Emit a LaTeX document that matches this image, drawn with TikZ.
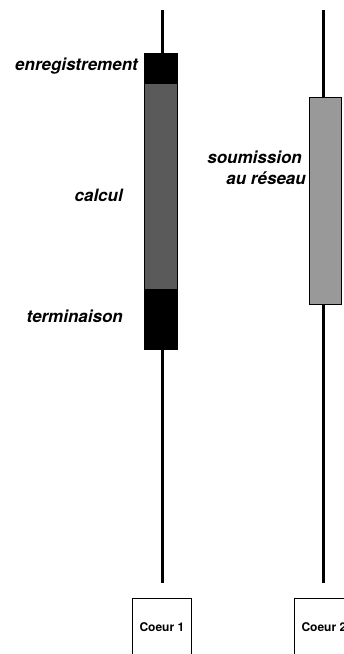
\documentclass[tikz,border=0pt]{standalone}
\usepackage{fontspec}
\setmainfont{TeX Gyre Heros}
\definecolor{calcgris}{HTML}{5A5A5A}
\definecolor{reseaugris}{HTML}{999999}

\begin{document}
\begin{tikzpicture}[x=1pt, y=-1pt,
        fil/.style={line width=3pt},
        phase/.style={draw, line width=0.8pt, inner sep=0pt, anchor=north west},
        etiquette/.style={font=\fontsize{17}{21}\selectfont\bfseries\itshape, inner sep=0pt, anchor=base east},
        coeur/.style={draw, line width=0.8pt, inner sep=0pt, anchor=north west,
            minimum width=59pt, minimum height=58pt, font=\fontsize{12}{14}\selectfont\bfseries}]
        \useasboundingbox (0,0) rectangle (344,654);
        \clip (0,0) rectangle (344,654);

        \coordinate (haut1) at (162,10);
        \coordinate (bas1) at (162,583);
        \coordinate (haut2) at (323,10);
        \coordinate (bas2) at (323,583);

        % coeur 1
        \node[phase, fill=black, minimum width=33pt, minimum height=30pt] (reg) at (144,53) {};
        \node[phase, fill=calcgris, minimum width=33pt, minimum height=206pt] (calc) at (144,83) {};
        \node[phase, fill=black, minimum width=33pt, minimum height=60pt] (term) at (144,289) {};
        \draw[fil] (haut1) -- (haut1 |- reg.north);
        \draw[fil] (haut1 |- term.south) -- (bas1);

        % coeur 2
        \node[phase, fill=reseaugris, minimum width=32pt, minimum height=207pt] (soum) at (309,97) {};
        \draw[fil] (haut2) -- (haut2 |- soum.north);
        \draw[fil] (haut2 |- soum.south) -- (bas2);

        \node[etiquette] (lreg) at (138,70) {enregistrement};
        \node[etiquette] (lcalc) at (123,201) {calcul};
        \node[etiquette] (lterm) at (123,322) {terminaison};
        \node[etiquette] (lsoum) at (302,163) {soumission};
        \node[etiquette] (lres) at (306,184) {au réseau};

        \node[coeur] (c1) at (132,598) {Coeur 1};
        \node[coeur] (c2) at (294,598) {Coeur 2};
\end{tikzpicture}
\end{document}
